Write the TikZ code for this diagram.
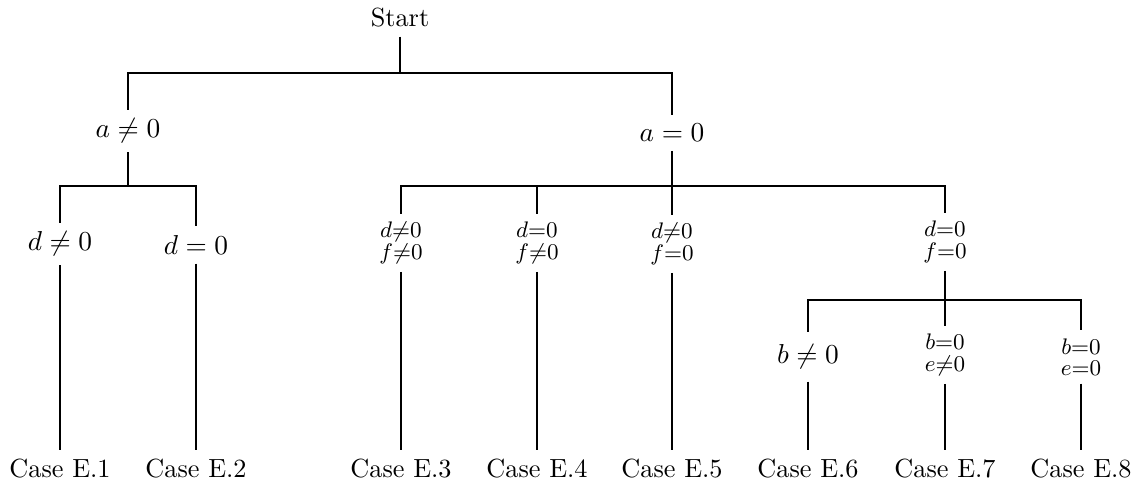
\documentclass[tikz,border=0pt]{standalone}
\begin{document}
\begin{tikzpicture}[x=0.4pt,y=-0.4pt,
  lbl/.style={font=\fontsize{10.5}{12}\selectfont, inner sep=0pt, outer sep=3.6pt},
  sml/.style={font=\fontsize{9}{8.6}\selectfont, align=center, inner sep=0pt, outer sep=3.2pt},
  conn/.style={line width=0.42pt}]
\useasboundingbox (0,0) rectangle (1141,486);
% nodes
\node[lbl] (start) at (400,18) {Start};
\node[lbl] (an) at (128,131) {$a\neq0$};
\node[lbl] (aeq) at (672,133) {$a=0$};
\node[lbl] (dn) at (60,244) {$d\neq0$};
\node[lbl] (deq) at (196,245) {$d=0$};
\node[sml] (m3) at (401,243) {$d{\neq}0$\\$f{\neq}0$};
\node[sml] (m4) at (537,243) {$d{=}0$\\$f{\neq}0$};
\node[sml] (m5) at (672,244) {$d{\neq}0$\\$f{=}0$};
\node[sml] (m6) at (945,242) {$d{=}0$\\$f{=}0$};
\node[lbl,outer sep=5pt] (bn) at (808,357) {$b\neq0$};
\node[sml] (m7) at (945,355) {$b{=}0$\\$e{\neq}0$};
\node[sml] (m8) at (1081,357) {$b{=}0$\\$e{=}0$};
\node[lbl] (c1) at (60,469) {Case E.1};
\node[lbl] (c2) at (196,469) {Case E.2};
\node[lbl] (c3) at (401,469) {Case E.3};
\node[lbl] (c4) at (537,469) {Case E.4};
\node[lbl] (c5) at (672,469) {Case E.5};
\node[lbl] (c6) at (808,469) {Case E.6};
\node[lbl] (c7) at (945,469) {Case E.7};
\node[lbl] (c8) at (1081,469) {Case E.8};
% bar coordinates
\coordinate (b0) at (400,73);
\coordinate (b1) at (128,186);
\coordinate (b2) at (672,186);
\coordinate (b3) at (945,300);
% connectors
\draw[conn] (start.south) -- (b0);
\draw[conn] (b0) -| (an.north);
\draw[conn] (b0) -| (aeq.north);
\draw[conn] (an.south) -- (b1);
\draw[conn] (b1) -| (dn.north);
\draw[conn] (b1) -| (deq.north);
\draw[conn] (aeq.south) -- (b2);
\draw[conn] (b2) -| (m3.north);
\draw[conn] (b2) -| (m4.north);
\draw[conn] (b2) -- (m5.north);
\draw[conn] (b2) -| (m6.north);
\draw[conn] (m6.south) -- (b3);
\draw[conn] (b3) -| (bn.north);
\draw[conn] (b3) -- (m7.north);
\draw[conn] (b3) -| (m8.north);
\draw[conn] (dn.south) -- (c1.north);
\draw[conn] (deq.south) -- (c2.north);
\draw[conn] (m3.south) -- (c3.north);
\draw[conn] (m4.south) -- (c4.north);
\draw[conn] (m5.south) -- (c5.north);
\draw[conn] (bn.south) -- (c6.north);
\draw[conn] (m7.south) -- (c7.north);
\draw[conn] (m8.south) -- (c8.north);
\end{tikzpicture}
\end{document}
